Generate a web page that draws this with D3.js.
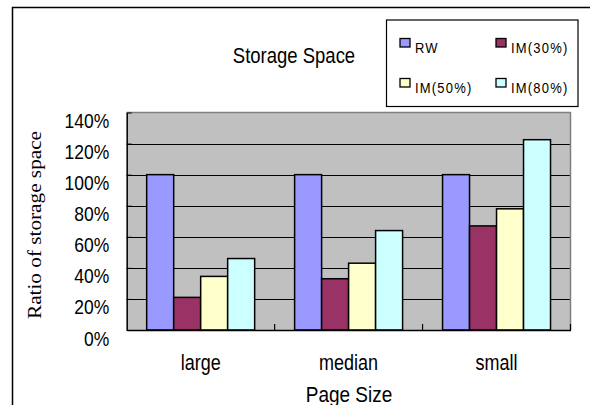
<!DOCTYPE html>
<html>
<head>
<meta charset="utf-8">
<script src="https://cdn.jsdelivr.net/npm/d3@7"></script>
<style>
  html, body { margin: 0; padding: 0; background: #fff; }
  svg { display: block; }
  text { font-family: "Liberation Sans", Arial, sans-serif; fill: #000; }
</style>
</head>
<body>
<svg id="chart" width="590" height="405"></svg>
<script>
// ---- data ----
const categories = ["large", "median", "small"];
const seriesNames = ["RW", "IM(30%)", "IM(50%)", "IM(80%)"];
const seriesColors = ["#9999FF", "#993366", "#FFFFCC", "#CCFFFF"];
const valuesRW   = [1.00, 1.00, 1.00];
const valuesIM30 = [0.21, 0.33, 0.67];
const valuesIM50 = [0.345, 0.43, 0.78];
const valuesIM80 = [0.46, 0.64, 1.225];
const yTickValues = [0, 0.2, 0.4, 0.6, 0.8, 1.0, 1.2, 1.4];
const chartTitle = "Storage Space";
const xTitle = "Page Size";
const yTitle = "Ratio of storage space";

const seriesValues = [valuesRW, valuesIM30, valuesIM50, valuesIM80];
const SY = 1.18; // vertical text stretch seen in the reference

const svg = d3.select("#chart");

// outer frame
svg.append("rect")
  .attr("x", 12.5).attr("y", 7.5)
  .attr("width", 620).attr("height", 420)
  .attr("fill", "#fff").attr("stroke", "#000").attr("stroke-width", 1.5);

const plot = { left: 126.7, right: 570.5, top: 112.5, bottom: 330 };

const x0 = d3.scaleBand().domain(categories).range([plot.left, plot.right]).padding(0);
const x1 = d3.scaleBand().domain(seriesNames).range([0, x0.bandwidth()])
  .paddingInner(0).paddingOuter(0.74);
const y = d3.scaleLinear().domain([0, 1.4]).range([plot.bottom, plot.top]);

// plot background
svg.append("rect")
  .attr("x", plot.left).attr("y", plot.top)
  .attr("width", plot.right - plot.left).attr("height", plot.bottom - plot.top)
  .attr("fill", "#C0C0C0");

// gridlines
svg.append("g").selectAll("line")
  .data(yTickValues.filter(v => v > 0 && v < 1.4))
  .join("line")
  .attr("x1", plot.left).attr("x2", plot.right)
  .attr("y1", d => Math.round(y(d)) + 0.5).attr("y2", d => Math.round(y(d)) + 0.5)
  .attr("stroke", "#000").attr("stroke-width", 1);

// top and right border (grey)
svg.append("path")
  .attr("d", `M${plot.left},${plot.top}H${plot.right}V${plot.bottom}`)
  .attr("fill", "none").attr("stroke", "#808080").attr("stroke-width", 1.5);

// bars
const groups = svg.append("g").selectAll("g")
  .data(categories)
  .join("g")
  .attr("transform", d => `translate(${x0(d)},0)`);

groups.selectAll("rect")
  .data((c, ci) => seriesNames.map((s, si) => ({ s, si, v: seriesValues[si][ci] })))
  .join("rect")
  .attr("x", d => x1(d.s))
  .attr("width", x1.bandwidth())
  .attr("y", d => y(d.v))
  .attr("height", d => y(0) - y(d.v))
  .attr("fill", d => seriesColors[d.si])
  .attr("stroke", "#000").attr("stroke-width", 1.5);

// y axis
const yAxis = svg.append("g")
  .attr("transform", `translate(${plot.left},0)`)
  .call(d3.axisLeft(y).tickValues(yTickValues).tickFormat(d3.format(".0%"))
    .tickSizeInner(-5).tickSizeOuter(0).tickPadding(0));
yAxis.select(".domain").attr("stroke", "#000").attr("stroke-width", 1.5);
yAxis.selectAll(".tick line").attr("stroke", "#000");
yAxis.selectAll(".tick text")
  .attr("x", -17.4).attr("dy", null).attr("y", 0)
  .attr("transform", `translate(0,15) scale(1,${SY})`)
  .attr("text-anchor", "end")
  .style("font-size", "17.5px")
  .style("font-family", "'Liberation Sans', Arial, sans-serif");

// x axis
const xAxis = svg.append("g")
  .attr("transform", `translate(0,${plot.bottom})`)
  .call(d3.axisBottom(x0).tickSize(0).tickPadding(0));
xAxis.select(".domain").attr("stroke", "#000").attr("stroke-width", 1.5);
xAxis.selectAll(".tick text")
  .attr("dy", null).attr("y", 0)
  .attr("transform", `translate(0,40) scale(1,${SY})`)
  .style("font-size", "18px")
  .style("font-family", "'Liberation Sans', Arial, sans-serif");
// category separator ticks (pointing up)
xAxis.append("g").selectAll("line")
  .data(categories.slice(1).concat(["__end"]))
  .join("line")
  .attr("x1", d => d === "__end" ? plot.right : x0(d))
  .attr("x2", d => d === "__end" ? plot.right : x0(d))
  .attr("y1", 0).attr("y2", -6)
  .attr("stroke", "#000").attr("stroke-width", 1.2);

// titles
svg.append("text")
  .attr("transform", `translate(294,63.3) scale(1,${SY})`)
  .attr("text-anchor", "middle")
  .style("font-size", "18.5px")
  .text(chartTitle);

svg.append("text")
  .attr("transform", `translate(349,401.5) scale(1,${SY})`)
  .attr("text-anchor", "middle")
  .style("font-size", "19px")
  .text(xTitle);

svg.append("text")
  .attr("transform", `translate(41,225) scale(1,${SY}) rotate(-90)`)
  .attr("text-anchor", "middle")
  .style("font-family", "'Liberation Serif', 'Times New Roman', serif")
  .style("font-size", "18px")
  .text(yTitle);

// legend
svg.append("rect")
  .attr("x", 386.5).attr("y", 20)
  .attr("width", 191.5).attr("height", 86.5)
  .attr("fill", "#fff").attr("stroke", "#000").attr("stroke-width", 1.2);

const legendItems = svg.append("g").selectAll("g")
  .data(seriesNames)
  .join("g")
  .attr("transform", (d, i) => `translate(${400 + (i % 2) * 96},${38.5 + Math.floor(i / 2) * 40})`);
legendItems.append("rect")
  .attr("width", 10).attr("height", 8.5)
  .attr("fill", (d, i) => seriesColors[i])
  .attr("stroke", "#000").attr("stroke-width", 1.3);
legendItems.append("text")
  .attr("transform", `translate(15,14) scale(1,${SY})`)
  .style("font-size", "13px")
  .style("letter-spacing", "1.2px")
  .text(d => d);
</script>
</body>
</html>
